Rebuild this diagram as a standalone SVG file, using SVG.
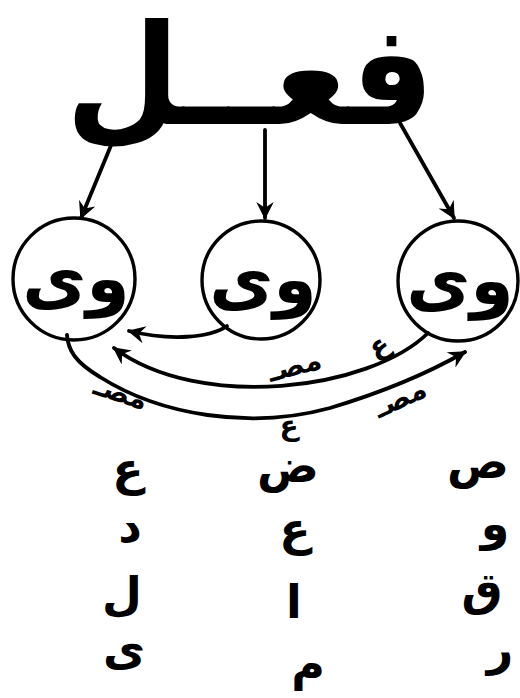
<svg xmlns="http://www.w3.org/2000/svg" width="520" height="698" viewBox="0 0 520 698">
<style>
.ar{font-family:"DejaVu Sans",sans-serif;fill:#000;font-weight:bold}
.circ{fill:none;stroke:#000;stroke-width:3.4}
.ln{fill:none;stroke:#000;stroke-width:3.8;stroke-linecap:round}
.col{font-size:46px;text-anchor:middle}
.lbl{font-size:28px;text-anchor:middle}
.inner{font-size:70px;text-anchor:middle}
</style>
<defs>
<marker id="ah" viewBox="0 0 12 12" refX="11" refY="6" markerWidth="4.6" markerHeight="4.6" orient="auto" markerUnits="strokeWidth">
<path d="M0,0 L12,6 L0,12 L4,6 Z" fill="#000"/>
</marker>
</defs>
<rect width="520" height="698" fill="#fff"/>
<g id="title">
<text class="ar" transform="translate(250,124) scale(1,1.06)" font-size="132" text-anchor="middle">فعــل</text>
</g>
<g id="node-left">
<circle class="circ" cx="74" cy="279" r="61"/>
<text class="ar inner" x="76" y="302">وى</text>
</g>
<g id="node-middle">
<circle class="circ" cx="261" cy="280" r="59"/>
<text class="ar inner" x="263" y="303">وى</text>
</g>
<g id="node-right">
<circle class="circ" cx="458" cy="281" r="60"/>
<text class="ar inner" x="460" y="304">وى</text>
</g>
<g id="connectors">
<path class="ln" d="M112,143 L81,218" marker-end="url(#ah)"/>
<path class="ln" d="M265,130 L265,218" marker-end="url(#ah)"/>
<path class="ln" d="M400,123 L454,218" marker-end="url(#ah)"/>
<path class="ln" d="M227,326 C210,338 170,341 129,331" marker-end="url(#ah)"/>
<path class="ln" d="M428,333 C370,390 200,412 114,348" marker-end="url(#ah)"/>
<path class="ln" d="M67,335 C68,350 75,362 100,377 C160,415 250,430 330,408 C390,390 430,372 465,352" marker-end="url(#ah)"/>
</g>
<g id="labels">
<text class="ar lbl" transform="translate(383,354) rotate(-25)">ع</text>
<text class="ar lbl" transform="translate(297,375) rotate(-15)">مصـ</text>
<text class="ar lbl" transform="translate(118,402) rotate(18)">مصـ</text>
<text class="ar lbl" transform="translate(404,407) rotate(-25)">مصـ</text>
<text class="ar lbl" x="289" y="435" font-size="24">ع</text>
</g>
<g id="columns">
<text class="ar col" x="478" y="478">ص</text>
<text class="ar col" x="495" y="540">و</text>
<text class="ar col" x="482" y="605">ق</text>
<text class="ar col" x="500" y="665">ر</text>
<text class="ar col" x="288" y="482">ض</text>
<text class="ar col" x="295" y="545">ع</text>
<text class="ar col" x="294" y="618">ا</text>
<text class="ar col" x="308" y="680">م</text>
<text class="ar col" x="128" y="485">ع</text>
<text class="ar col" x="130" y="542">د</text>
<text class="ar col" x="122" y="610">ل</text>
<text class="ar col" x="124" y="665">ى</text>
</g>
</svg>
